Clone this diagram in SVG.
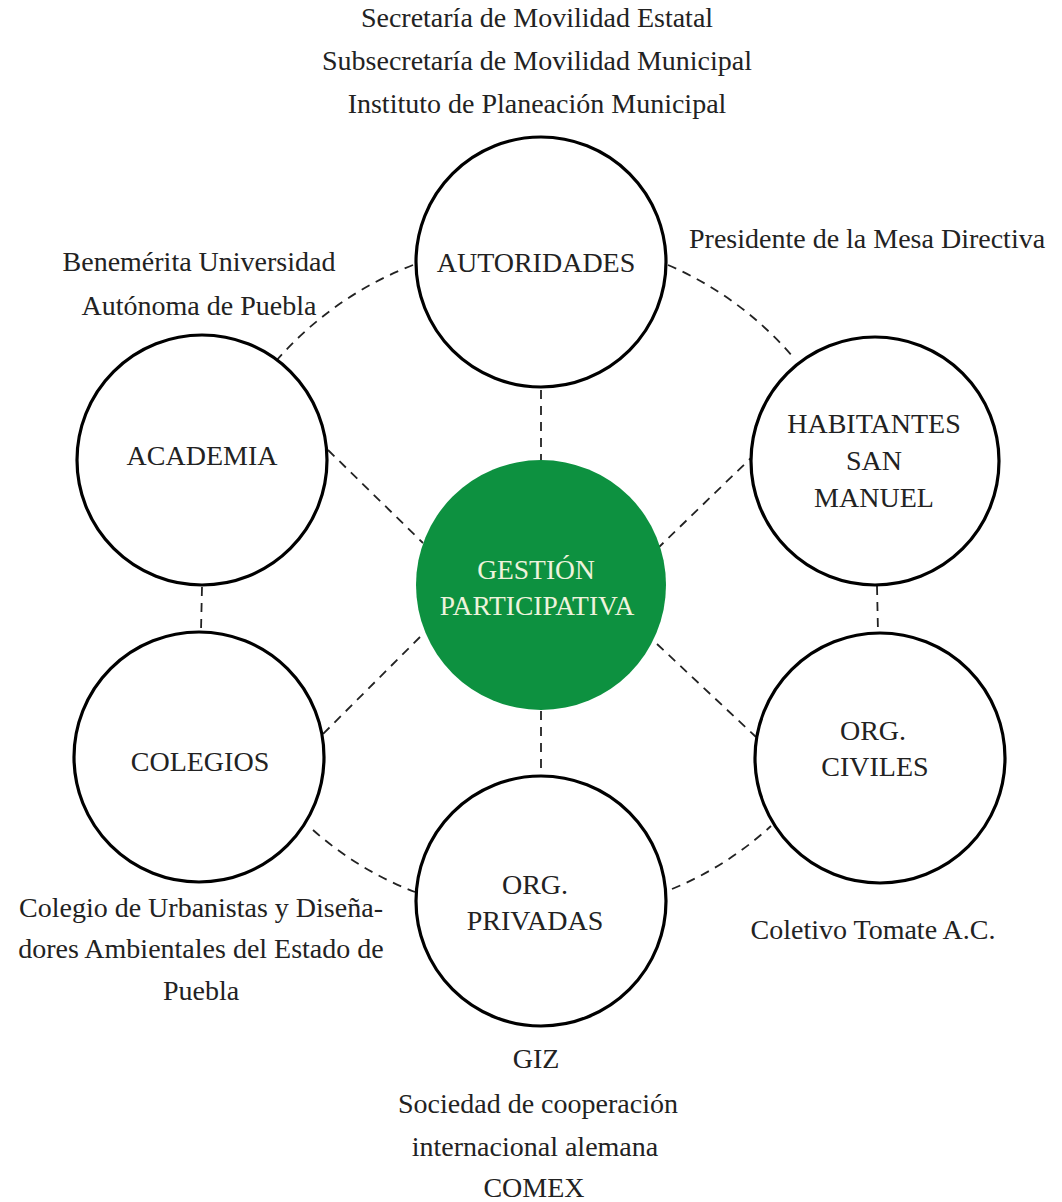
<svg xmlns="http://www.w3.org/2000/svg" width="1062" height="1202" viewBox="0 0 1062 1202">
<style>
  text { font-family: "Liberation Serif", "Times New Roman", serif; font-size: 28px; fill: #222; text-anchor: middle; }
  .node { fill: #fff; stroke: #000; stroke-width: 3.2; }
  .hub { fill: #0d9140; stroke: none; }
  .hubtxt { fill: #eef3dc; font-size: 27.5px; }
  .dash { fill: none; stroke: #222; stroke-width: 1.8; stroke-dasharray: 9 7; }
  .start { text-anchor: start; }
</style>
<rect width="1062" height="1202" fill="#fff"/>

<g id="connectors">
  <path class="dash" d="M413,265 A346,346 0 0 0 277,360"/>
  <path class="dash" d="M668,265 A342,342 0 0 1 793,357"/>
  <path class="dash" d="M202,587 L201,631"/>
  <path class="dash" d="M877,586 L878,632"/>
  <path class="dash" d="M313,830 A334,334 0 0 0 415,892"/>
  <path class="dash" d="M672,889 A333,333 0 0 0 771,826"/>
  <path class="dash" d="M541,390 L541,460"/>
  <path class="dash" d="M541,711 L541,775"/>
  <path class="dash" d="M328,450 L423,543"/>
  <path class="dash" d="M657,549 L751,458"/>
  <path class="dash" d="M420,637 L322,735"/>
  <path class="dash" d="M657,644 L756,737"/>
</g>

<g id="hub">
  <circle class="hub" cx="541" cy="585" r="125"/>
  <text class="hubtxt" x="536" y="579">GESTIÓN</text>
  <text class="hubtxt" x="537" y="615">PARTICIPATIVA</text>
</g>

<g id="autoridades">
  <circle class="node" cx="541" cy="262" r="125"/>
  <text x="536" y="272">AUTORIDADES</text>
</g>

<g id="academia">
  <circle class="node" cx="202" cy="460" r="125"/>
  <text x="202" y="465">ACADEMIA</text>
</g>

<g id="habitantes">
  <circle class="node" cx="875" cy="461" r="124"/>
  <text x="874" y="433">HABITANTES</text>
  <text x="874" y="470">SAN</text>
  <text x="874" y="507">MANUEL</text>
</g>

<g id="colegios">
  <circle class="node" cx="199" cy="757" r="125"/>
  <text x="200" y="771">COLEGIOS</text>
</g>

<g id="org-civiles">
  <circle class="node" cx="880" cy="758" r="125"/>
  <text x="873" y="740">ORG.</text>
  <text x="875" y="776">CIVILES</text>
</g>

<g id="org-privadas">
  <circle class="node" cx="541" cy="901" r="125"/>
  <text x="535" y="894">ORG.</text>
  <text x="535" y="930">PRIVADAS</text>
</g>

<g id="labels">
  <text x="537" y="27">Secretaría de Movilidad Estatal</text>
  <text x="537" y="70">Subsecretaría de Movilidad Municipal</text>
  <text x="537" y="113">Instituto de Planeación Municipal</text>
  <text class="start" x="689" y="248">Presidente de la Mesa Directiva</text>
  <text x="199" y="271">Benemérita Universidad</text>
  <text x="199" y="315">Autónoma de Puebla</text>
  <text x="201" y="917">Colegio de Urbanistas y Diseña-</text>
  <text x="201" y="958">dores Ambientales del Estado de</text>
  <text x="201" y="1000">Puebla</text>
  <text x="873" y="939">Coletivo Tomate A.C.</text>
  <text x="536" y="1068">GIZ</text>
  <text x="538" y="1113">Sociedad de cooperación</text>
  <text x="535" y="1156">internacional alemana</text>
  <text x="534" y="1197">COMEX</text>
</g>
</svg>
